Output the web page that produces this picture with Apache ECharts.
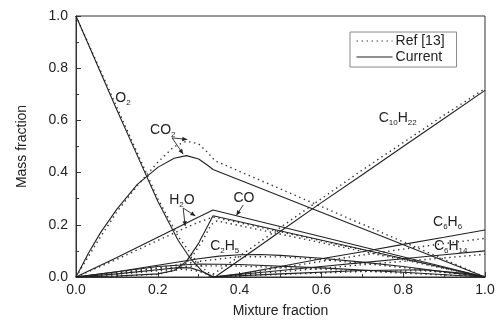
<!DOCTYPE html>
<html>
<head>
<meta charset="utf-8">
<script src="https://cdn.jsdelivr.net/npm/echarts@6/dist/echarts.min.js"></script>
<style>html,body{margin:0;padding:0;background:#fff}#c{width:503px;height:326px}</style>
</head>
<body>
<div id="c"></div>
<script>
// ---------- data (mixture fraction, mass fraction) ----------
const o2Cur   = [[0,1],[0.05,0.82],[0.1,0.64],[0.15,0.465],[0.2,0.29],[0.25,0.14],[0.28,0.07],[0.31,0.02],[0.335,0]];
const o2Ref   = [[0,1],[0.05,0.825],[0.1,0.65],[0.15,0.475],[0.2,0.3],[0.25,0.155],[0.29,0.07],[0.32,0.02],[0.345,0]];
const co2Cur  = [[0,0],[0.03,0.09],[0.06,0.17],[0.1,0.26],[0.15,0.355],[0.2,0.42],[0.24,0.455],[0.27,0.465],[0.3,0.452],[0.32,0.43],[0.335,0.412],[1,0]];
const co2Ref  = [[0,0],[0.05,0.13],[0.1,0.25],[0.15,0.35],[0.2,0.44],[0.24,0.5],[0.27,0.52],[0.3,0.51],[0.32,0.48],[0.34,0.445],[1,0]];
const h2oCur  = [[0,0],[0.1,0.075],[0.2,0.152],[0.3,0.23],[0.335,0.257],[1,0]];
const h2oRef  = [[0,0],[0.1,0.068],[0.2,0.14],[0.27,0.19],[0.3,0.21],[0.335,0.23],[1,0]];
const coCur   = [[0,0],[0.1,0.004],[0.2,0.012],[0.24,0.025],[0.27,0.06],[0.3,0.13],[0.32,0.19],[0.335,0.235],[1,0]];
const coRef   = [[0,0],[0.1,0.003],[0.2,0.01],[0.25,0.028],[0.28,0.07],[0.31,0.14],[0.33,0.2],[0.345,0.215],[1,0]];
const c2h5Cur = [[0,0],[0.1,0.02],[0.2,0.045],[0.3,0.07],[0.35,0.08],[0.4,0.085],[0.45,0.086],[0.5,0.083],[0.6,0.072],[0.7,0.057],[0.8,0.04],[0.9,0.02],[1,0]];
const c2h5Ref = [[0,0],[0.1,0.015],[0.2,0.035],[0.3,0.06],[0.4,0.078],[0.5,0.077],[0.6,0.067],[0.7,0.052],[0.8,0.036],[0.9,0.018],[1,0]];
const humpCur = [[0,0],[0.1,0.012],[0.2,0.028],[0.25,0.036],[0.28,0.035],[0.31,0.02],[0.335,0]];
const humpRef = [[0,0],[0.1,0.01],[0.2,0.024],[0.26,0.03],[0.3,0.022],[0.34,0]];
const lowCur  = [[0,0],[0.2,0.04],[0.3,0.05],[0.4,0.048],[0.6,0.035],[0.8,0.018],[1,0]];
const lowRef  = [[0,0],[0.2,0.033],[0.3,0.043],[0.4,0.042],[0.6,0.03],[0.8,0.015],[1,0]];
const c10Cur  = [[0.34,0],[0.4,0.065],[0.5,0.175],[0.6,0.285],[0.7,0.392],[0.8,0.5],[0.9,0.607],[1,0.715]];
const c10Ref  = [[0.325,0],[0.4,0.08],[0.5,0.19],[0.6,0.3],[0.7,0.41],[0.8,0.515],[0.9,0.62],[1,0.722]];
const c6h6Cur = [[0.335,0],[0.4,0.012],[0.5,0.04],[0.6,0.07],[0.7,0.097],[0.8,0.125],[0.9,0.152],[1,0.18]];
const c6h6Ref = [[0.34,0],[0.4,0.01],[0.5,0.035],[0.6,0.06],[0.7,0.084],[0.8,0.107],[0.9,0.128],[1,0.148]];
const c6h14Cur= [[0.335,0],[0.5,0.025],[0.6,0.04],[0.7,0.055],[0.8,0.07],[0.9,0.085],[1,0.1]];
const c6h14Ref= [[0.34,0],[0.5,0.02],[0.6,0.033],[0.7,0.047],[0.8,0.06],[0.9,0.073],[1,0.087]];
const richCur = [[0.335,0],[0.5,0.012],[0.7,0.025],[0.85,0.028],[0.95,0.014],[1,0]];
const richRef = [[0.34,0],[0.5,0.01],[0.7,0.021],[0.85,0.024],[0.95,0.012],[1,0]];

const currentSets = [o2Cur, co2Cur, h2oCur, coCur, c2h5Cur, humpCur, lowCur, c10Cur, c6h6Cur, c6h14Cur, richCur];
const refSets     = [o2Ref, co2Ref, h2oRef, coRef, c2h5Ref, humpRef, lowRef, c10Ref, c6h6Ref, c6h14Ref, richRef];
const legendNames = ['Ref [13]', 'Current'];

// ---------- annotation positions (data coords) ----------
const labels = [
  {parts:[['b','O'],['s','2']], at:[0.096,0.686]},
  {parts:[['b','CO'],['s','2']], at:[0.181,0.563]},
  {parts:[['b','H'],['s','2'],['b','O']], at:[0.228,0.295]},
  {parts:[['b','CO']], at:[0.385,0.303]},
  {parts:[['b','C'],['s','2'],['b','H'],['s','5']], at:[0.328,0.119]},
  {parts:[['b','C'],['s','10'],['b','H'],['s','22']], at:[0.74,0.609]},
  {parts:[['b','C'],['s','6'],['b','H'],['s','6']], at:[0.873,0.211]},
  {parts:[['b','C'],['s','6'],['b','H'],['s','14']], at:[0.875,0.119]}
];
const arrows = [
  [[0.235,0.533],[0.262,0.471]],
  [[0.235,0.533],[0.272,0.527]],
  [[0.262,0.264],[0.292,0.234]],
  [[0.262,0.264],[0.267,0.195]],
  [[0.409,0.276],[0.392,0.236]]
];

const FONT = '"Liberation Sans", Arial, sans-serif';
const INK = '#222';
const DOT = [1.4, 3.6];
const chart = echarts.init(document.getElementById('c'), null, {renderer:'canvas'});

const series = [];
refSets.forEach(d => series.push({
  name:legendNames[0], type:'line', data:d, symbol:'none', silent:true, animation:false,
  itemStyle:{color:INK},
  lineStyle:{color:'#333', width:1.4, type:DOT, cap:'butt'}
}));
currentSets.forEach(d => series.push({
  name:legendNames[1], type:'line', data:d, symbol:'none', silent:true, animation:false,
  itemStyle:{color:INK},
  lineStyle:{color:INK, width:1.1}
}));

const axisCommon = {
  type:'value', min:0, max:1, interval:0.2,
  axisLine:{show:true, lineStyle:{color:'#333', width:1}},
  axisTick:{show:true, inside:true, length:5, lineStyle:{color:'#333'}},
  minorTick:{show:true, splitNumber:2, length:3, lineStyle:{color:'#333'}},
  splitLine:{show:false},
  axisLabel:{formatter:v=>v.toFixed(1), fontSize:14, color:INK, fontFamily:FONT},
  nameLocation:'middle',
  nameTextStyle:{fontSize:14, color:INK, fontFamily:FONT}
};

chart.setOption({
  animation:false,
  grid:{left:76, right:18, top:16, bottom:49, show:true, borderColor:'#333', borderWidth:1},
  xAxis:Object.assign({}, axisCommon, {name:'Mixture fraction', nameGap:27, axisLabel:Object.assign({}, axisCommon.axisLabel, {margin:6})}),
  yAxis:Object.assign({}, axisCommon, {name:'Mass fraction', nameGap:47, axisLabel:Object.assign({}, axisCommon.axisLabel, {margin:8})}),
  legend:{
    data:legendNames, orient:'vertical', left:350, top:32,
    borderColor:'#888', borderWidth:1, padding:[2,12,3,6], itemGap:2,
    itemWidth:36, itemHeight:12, selectedMode:false,
    itemStyle:{opacity:0},
    lineStyle:{width:1.1},
    textStyle:{fontSize:14, color:INK, fontFamily:FONT, padding:[0,0,0,-2]}
  },
  series:series
});

// annotations
const g = [];
const P = p => chart.convertToPixel({gridIndex:0}, p);
labels.forEach(l => {
  const px = P(l.at);
  g.push({type:'text', x:px[0], y:px[1], silent:true,
    style:{
      text: l.parts.map(p => '{' + p[0] + '|' + p[1] + '}').join(''),
      verticalAlign:'middle', align:'left',
      rich:{
        b:{fontSize:14, fontFamily:FONT, fill:INK, color:INK},
        s:{fontSize:8, fontFamily:FONT, fill:INK, color:INK, padding:[9,0,0,0]}
      }
    }});
});
arrows.forEach(a => {
  const p0 = P(a[0]), p1 = P(a[1]);
  g.push({type:'line', silent:true, shape:{x1:p0[0],y1:p0[1],x2:p1[0],y2:p1[1]}, style:{stroke:INK, lineWidth:0.9}});
  const ang = Math.atan2(p1[1]-p0[1], p1[0]-p0[0]);
  const L = 5, W = 2.2;
  const bx = p1[0]-L*Math.cos(ang), by = p1[1]-L*Math.sin(ang);
  g.push({type:'polygon', silent:true, shape:{points:[
    [p1[0],p1[1]],
    [bx + W*Math.sin(ang), by - W*Math.cos(ang)],
    [bx - W*Math.sin(ang), by + W*Math.cos(ang)]
  ]}, style:{fill:INK}});
});
chart.setOption({graphic:g});
</script>
</body>
</html>
